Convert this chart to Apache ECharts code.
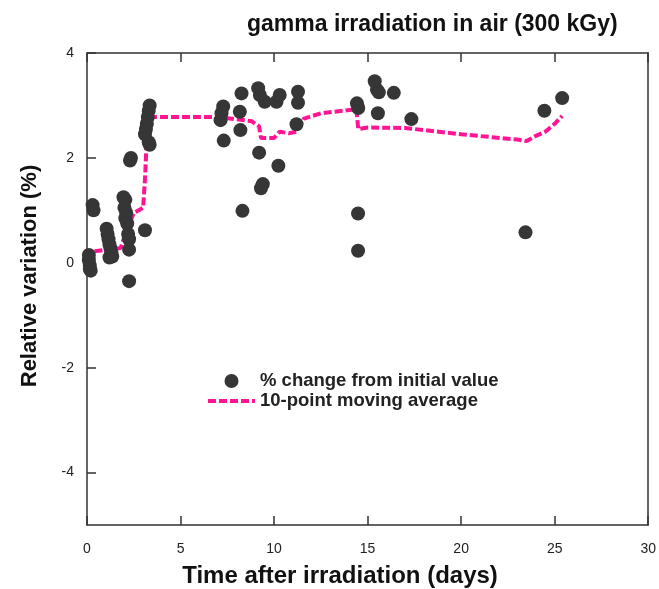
<!DOCTYPE html>
<html>
<head>
<meta charset="utf-8">
<script src="https://cdn.jsdelivr.net/npm/echarts@6/dist/echarts.min.js"></script>
<style>
  html, body { margin: 0; padding: 0; background: #fff; }
  #chart { width: 659px; height: 589px; }
</style>
</head>
<body>
<div id="chart"></div>
<script>
// Measured relative variation (%) against time after irradiation (days)
const dayValues = [
  0.1, 0.1, 0.15, 0.15, 0.2,
  0.3, 0.35,
  1.05, 1.1, 1.15, 1.2, 1.25, 1.3, 1.35, 1.2,
  1.95, 2.05, 2.0, 2.1, 2.05, 2.15, 2.2, 2.25, 2.25, 2.3, 2.35, 2.25,
  3.35, 3.3, 3.25, 3.2, 3.15, 3.1, 3.3, 3.35, 3.1,
  7.28, 7.19, 7.14, 7.31, 8.17, 8.2, 8.26, 8.31,
  9.15, 9.24, 9.5, 9.2, 9.3, 9.4, 10.13, 10.3, 10.23, 11.2, 11.28, 11.28,
  14.43, 14.5, 14.49, 14.49, 15.38, 15.5, 15.6, 15.55, 16.4, 17.34,
  23.44, 24.45, 25.4
];
const variationValues = [
  0.15, 0.05, -0.05, -0.12, -0.15,
  1.1, 1.0,
  0.65, 0.55, 0.45, 0.35, 0.28, 0.2, 0.12, 0.1,
  1.25, 1.2, 1.05, 0.95, 0.85, 0.75, 0.55, 0.45, 0.25, 1.95, 2.0, -0.35,
  3.0, 2.9, 2.78, 2.65, 2.55, 2.45, 2.3, 2.25, 0.62,
  2.98, 2.85, 2.72, 2.33, 2.88, 2.53, 3.23, 0.99,
  3.33, 3.2, 3.07, 2.1, 1.42, 1.5, 3.07, 3.2, 1.85, 2.64, 3.26, 3.05,
  3.04, 2.95, 0.94, 0.23, 3.46, 3.3, 3.25, 2.85, 3.24, 2.74,
  0.58, 2.9, 3.14
];

// 10-point moving average trace
const maDays = [
  0.4, 1.8, 2.0, 2.5, 3.0, 3.1, 3.15, 3.2, 3.35, 5.0, 7.0, 8.8, 9.2, 9.3,
  10.0, 10.3, 10.8, 11.2, 11.6, 12.5, 14.4, 14.5, 15.0, 17.0, 20.0, 23.0,
  23.5, 24.0, 24.5, 25.0, 25.4
];
const maValues = [
  0.22, 0.28, 0.5, 0.95, 1.05, 1.6, 2.0, 2.5, 2.78, 2.78, 2.78, 2.7, 2.6, 2.38,
  2.38, 2.5, 2.47, 2.5, 2.75, 2.85, 2.93, 2.55, 2.58, 2.57, 2.45, 2.35,
  2.32, 2.42, 2.5, 2.65, 2.8
];

const xTicks = [0, 5, 10, 15, 20, 25, 30];
const yTicks = [-4, -2, 0, 2, 4];

const FONT = '"Liberation Sans", Arial, sans-serif';
const INK = '#333';
const PINK = '#ff1493';
const DASH = [8, 3];

const scatterData = dayValues.map((d, i) => [d, variationValues[i]]);
const maData = maDays.map((d, i) => [d, maValues[i]]);

const chart = echarts.init(document.getElementById('chart'), null, { renderer: 'canvas' });

const frameLine = { show: true, onZero: false, lineStyle: { color: INK, width: 1.5 } };
const tickStyle = { color: INK, width: 1.5 };

chart.setOption({
  animation: false,
  backgroundColor: '#fff',
  title: {
    text: 'gamma irradiation in air (300 kGy)',
    left: 242,
    top: 8,
    textStyle: { fontFamily: FONT, fontWeight: 'bold', fontSize: 23, color: '#111' }
  },
  legend: {
    orient: 'vertical',
    left: 201,
    top: 366,
    itemWidth: 47,
    itemHeight: 14,
    itemGap: 0,
    data: [
      { name: '% change from initial value' },
      {
        name: '10-point moving average',
        itemStyle: { opacity: 0 },
        lineStyle: { color: PINK, width: 4, type: DASH }
      }
    ],
    textStyle: { fontFamily: FONT, fontWeight: 'bold', fontSize: 18.5, lineHeight: 20, color: '#222' }
  },
  graphic: [
    {
      type: 'text',
      x: 340, y: 576,
      style: {
        text: 'Time after irradiation (days)',
        fontFamily: FONT, fontWeight: 'bold', fontSize: 24, fill: '#111',
        align: 'center', verticalAlign: 'middle'
      }
    },
    {
      type: 'text',
      x: 30, y: 276,
      rotation: Math.PI / 2,
      style: {
        text: 'Relative variation (%)',
        fontFamily: FONT, fontWeight: 'bold', fontSize: 22, fill: '#111',
        align: 'center', verticalAlign: 'middle'
      }
    }
  ],
  grid: { left: 87, right: 10, top: 53, bottom: 64 },
  xAxis: [
    {
      type: 'value', min: 0, max: 30, interval: 5,
      axisLine: frameLine,
      axisTick: { show: true, inside: true, length: 9, customValues: xTicks, lineStyle: tickStyle },
      axisLabel: { customValues: xTicks, margin: 17, fontFamily: FONT, fontSize: 14, color: '#222' },
      splitLine: { show: false }
    },
    {
      type: 'value', min: 0, max: 30, interval: 5, position: 'top',
      axisLine: frameLine,
      axisTick: { show: true, inside: true, length: 9, customValues: xTicks, lineStyle: tickStyle },
      axisLabel: { show: false },
      splitLine: { show: false }
    }
  ],
  yAxis: [
    {
      type: 'value', min: -5, max: 4, interval: 1,
      axisLine: frameLine,
      axisTick: { show: true, inside: true, length: 9, customValues: yTicks, lineStyle: tickStyle },
      axisLabel: { customValues: yTicks, margin: 13, fontFamily: FONT, fontSize: 14, color: '#222' },
      splitLine: { show: false }
    },
    {
      type: 'value', min: -5, max: 4, interval: 1, position: 'right',
      axisLine: frameLine,
      axisTick: { show: false },
      axisLabel: { show: false },
      splitLine: { show: false }
    }
  ],
  series: [
    {
      name: '10-point moving average',
      type: 'line',
      data: maData,
      symbol: 'none',
      z: 2,
      lineStyle: { color: PINK, width: 4, type: DASH },
      itemStyle: { color: PINK }
    },
    {
      name: '% change from initial value',
      type: 'scatter',
      data: scatterData,
      symbol: 'circle',
      symbolSize: 14,
      z: 3,
      itemStyle: { color: '#363636', opacity: 1 }
    }
  ]
});
</script>
</body>
</html>
